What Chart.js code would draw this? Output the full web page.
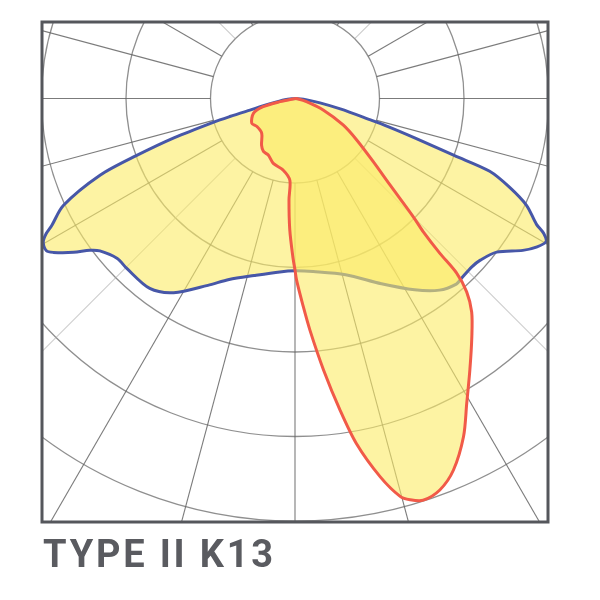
<!DOCTYPE html>
<html>
<head>
<meta charset="utf-8">
<script src="https://cdn.jsdelivr.net/npm/chart.js@4.4.1/dist/chart.umd.min.js"></script>
<style>
  body { margin: 0; background: #fff; }
  #wrap { position: relative; width: 600px; height: 600px; }
  #title {
    position: absolute; left: 43px; top: 535px;
    font-family: Roboto, sans-serif; font-weight: bold; font-size: 38px;
    line-height: 38px; color: #5a5b60; letter-spacing: 2.8px; white-space: nowrap;
  }
</style>
</head>
<body>
<div id="wrap">
  <canvas id="myChart" width="600" height="600"></canvas>
  <div id="title">TYPE II K13</div>
</div>
<script>
// polar grid: rings (intensity) and spokes (gamma, 0 = nadir)
var ringValues  = [100, 200, 300, 400, 500];
var spokeAngles = [0, 15, 30, 45, 60, 75, 90, 105, 120, 135, 150, 165, 180,
                   195, 210, 225, 240, 255, 270, 285, 300, 315, 330, 345];
var lightSpokes = [45, 135, 225, 315];

// C0 / C180 plane (blue)
var blueGammaLeft = [0, 5, 13, 20, 25, 32, 37.4, 44.7, 48, 52, 53.5, 55.2, 57.5, 58.5, 60.3, 61.5, 62.4, 65.2, 68.5, 70.2, 72, 73.8, 74.5, 75.5, 78, 83, 90];
var blueLeft      = [204, 206, 215, 228, 244, 271, 283, 283, 283, 293, 302, 319, 339, 345, 343, 335, 325, 302, 248, 199, 150, 100, 80, 55, 30, 12, 0];
var blueGammaRight = [0, 6, 16, 25, 32, 37, 41, 42.8, 46.4, 48.9, 52.7, 56.3, 58.5, 60.3, 61.5, 62.5, 65.2, 67.5, 69.5, 70.3, 71.7, 73.2, 74.3, 77, 80, 85, 90];
var blueRight      = [204, 206, 217, 242, 267, 284, 291, 290, 289, 291, 300, 324, 336, 342, 335, 322, 302, 275, 246, 200, 152, 115, 90, 55, 30, 10, 0];

// C90 / C270 plane (red)
var redGammaLeft = [0, 0.8, 2.3, 3.4, 3.6, 9.3, 18.5, 25.3, 30.8, 35.6, 43.7, 53.6, 60.2, 70.5, 75.5, 78, 90];
var redLeft      = [203, 187, 155, 120, 97, 86, 81, 74, 73, 68, 57, 56, 59, 52, 39, 18, 0];
var redGammaRight = [0, 0.5, 2.2, 3.7, 6, 8.2, 10.1, 12.7, 14.8, 16, 17.7, 20.3, 23.1, 26.5, 29.4, 32.8, 36.6, 39.6, 41.6, 42.8, 43.1, 43.9, 45, 47.7, 51.1, 56.1, 61.2, 67.9, 74.7, 82, 90];
var redRight      = [203, 215, 245, 275, 323, 372, 415, 459, 487, 494, 499, 494, 478, 447, 414, 382, 351, 328, 306, 281, 251, 219, 198, 152, 119, 88, 65, 36, 14, 4, 0];

function polarPoints(gL, vL, gR, vR){
  var pts = [];
  for (var i = gL.length - 1; i >= 0; i--) {
    var a = gL[i] * Math.PI / 180;
    pts.push({x: -vL[i] * Math.sin(a), y: -vL[i] * Math.cos(a)});
  }
  for (var j = 1; j < gR.length; j++) {
    var b = gR[j] * Math.PI / 180;
    pts.push({x: vR[j] * Math.sin(b), y: -vR[j] * Math.cos(b)});
  }
  return pts;
}

var polarGrid = {
  id: 'polarGrid',
  beforeDatasetsDraw: function(chart){
    var ctx = chart.ctx, xs = chart.scales.x, ys = chart.scales.y, area = chart.chartArea;
    var cx = xs.getPixelForValue(0), cy = ys.getPixelForValue(0);
    ctx.save();
    ctx.beginPath();
    ctx.rect(area.left, area.top, area.right - area.left, area.bottom - area.top);
    ctx.clip();
    ctx.strokeStyle = 'rgba(115,115,115,0.8)';
    ctx.lineWidth = 1.3;
    ringValues.forEach(function(r){
      ctx.beginPath();
      ctx.arc(cx, cy, xs.getPixelForValue(r) - cx, 0, Math.PI * 2);
      ctx.stroke();
    });
    spokeAngles.forEach(function(g){
      var a = g * Math.PI / 180;
      var r0 = ringValues[0], r1 = 800;
      ctx.beginPath();
      ctx.moveTo(xs.getPixelForValue(r0 * Math.sin(a)), ys.getPixelForValue(-r0 * Math.cos(a)));
      ctx.lineTo(xs.getPixelForValue(r1 * Math.sin(a)), ys.getPixelForValue(-r1 * Math.cos(a)));
      ctx.strokeStyle = lightSpokes.indexOf(g) >= 0 ? 'rgba(170,170,170,0.6)' : 'rgba(100,100,100,0.85)';
      ctx.lineWidth = 1.1;
      ctx.stroke();
    });
    ctx.restore();
  },
  afterDraw: function(chart){
    var ctx = chart.ctx, area = chart.chartArea;
    ctx.save();
    ctx.strokeStyle = '#55575c';
    ctx.lineWidth = 3;
    ctx.strokeRect(area.left, area.top, area.right - area.left, area.bottom - area.top);
    ctx.restore();
  }
};

var ctxx = document.getElementById('myChart').getContext('2d');
var chart = new Chart(ctxx, {
  type: 'scatter',
  data: {
    datasets: [{
      label: 'C90-C270',
      data: polarPoints(redGammaLeft, redLeft, redGammaRight, redRight),
      showLine: true,
      borderColor: '#f15a48',
      borderWidth: 3,
      backgroundColor: 'rgba(252,235,102,0.6)',
      fill: 'shape',
      tension: 0.3,
      pointRadius: 0
    }, {
      label: 'C0-C180',
      data: polarPoints(blueGammaLeft, blueLeft, blueGammaRight, blueRight),
      showLine: true,
      borderColor: '#4757a8',
      borderWidth: 3,
      backgroundColor: 'rgba(252,235,102,0.6)',
      fill: 'shape',
      tension: 0.3,
      pointRadius: 0
    }]
  },
  options: {
    responsive: false,
    animation: false,
    layout: {padding: {left: 42, top: 22, right: 52, bottom: 78}},
    scales: {
      x: {type: 'linear', min: -299.4, max: 299.4, display: false},
      y: {type: 'linear', min: -501.2, max: 90.5, display: false}
    },
    plugins: {legend: {display: false}, tooltip: {enabled: false}}
  },
  plugins: [polarGrid]
});
</script>
</body>
</html>
